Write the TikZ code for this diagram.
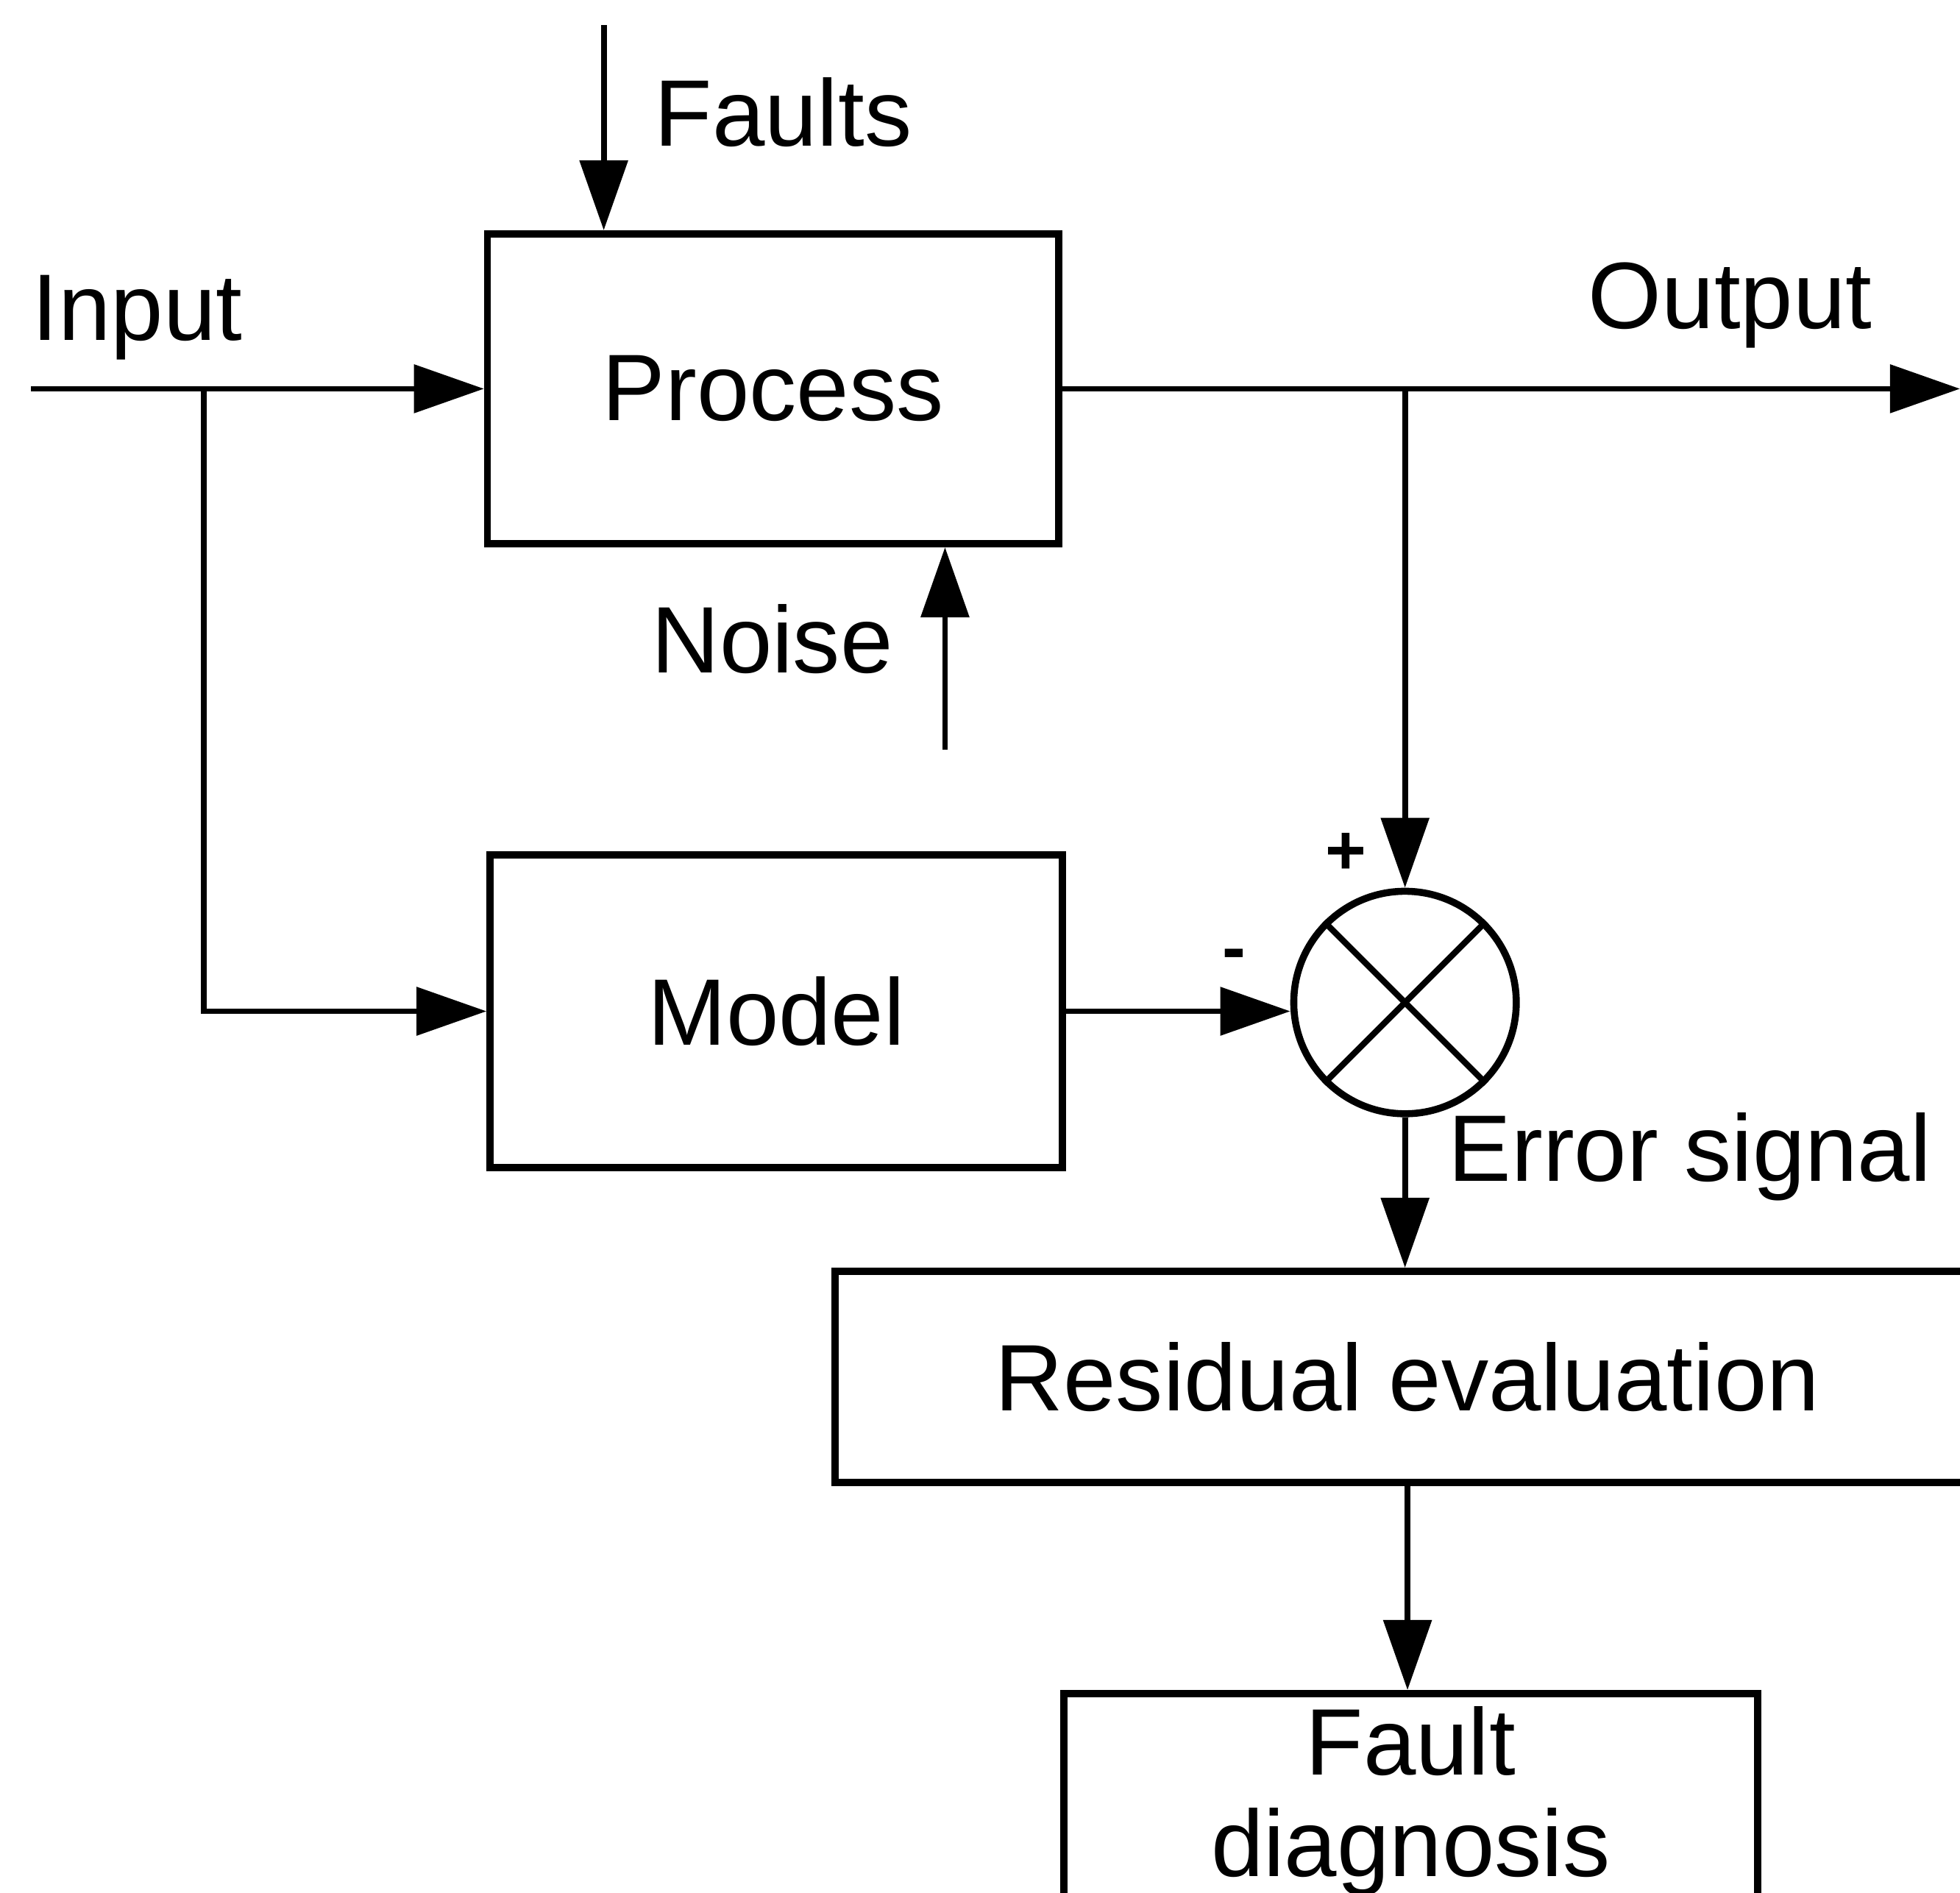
\documentclass[tikz,border=0pt]{standalone}
\usepackage{fontspec}
\setmainfont{Liberation Sans}
\usepackage{tikz}
\usetikzlibrary{calc, arrows.meta, positioning}

\tikzset{
    blocco/.style={draw, line width=1.6pt, inner sep=0pt, align=center,
        font=\fontsize{21.5}{23}\selectfont},
    freccia/.style={line width=1.3pt, -{Triangle[length=5.6mm,width=3.8mm]}},
    etich/.style={font=\fontsize{21.5}{23}\selectfont, inner sep=0pt},
    segno/.style={font=\fontsize{16}{18}\selectfont\bfseries, inner sep=0pt}
}

\begin{document}
\begin{tikzpicture}
    \path[use as bounding box, clip] (0,0) rectangle (15.68,-15.14);

    % blocchi
    \node[blocco, minimum width=4.57cm, minimum height=2.48cm] (proc) at (6.185,-3.11) {Process};
    \node[blocco, minimum width=4.58cm, minimum height=2.50cm] (model) at (6.21,-8.09) {Model};
    \node[blocco, minimum width=9.16cm, minimum height=1.69cm] (resid) at (11.26,-11.015) {Residual evaluation};
    \node[blocco, anchor=north, minimum width=5.55cm, inner sep=3pt] (diagn) at (11.285,-13.52) {Fault\\diagnosis};

    % nodo somma
    \node[draw, circle, line width=1.6pt, minimum size=1.78cm, inner sep=0pt] (somma) at (11.24,-8.02) {};
    \draw[line width=1.4pt] (somma.north west) -- (somma.south east);
    \draw[line width=1.4pt] (somma.north east) -- (somma.south west);

    % ingressi e uscita
    \coordinate (inp) at (0.25,-3.11);
    \coordinate (dirA) at (1.63,-3.11);
    \coordinate (guasti) at (4.83,-0.20);
    \coordinate (rumore) at (7.56,-6.00);
    \coordinate (usc) at (15.68,-3.11);
    \coordinate (dirB) at (somma.north |- proc.east);

    % frecce
    \draw[freccia] (inp) -- (proc.west);
    \draw[freccia] (dirA) |- (model.west);
    \draw[freccia] (guasti) -- (guasti |- proc.north);
    \draw[freccia] (rumore) -- (rumore |- proc.south);
    \draw[freccia] (proc.east) -- (usc);
    \draw[freccia] (dirB) -- (somma.north);
    \draw[freccia] (model.east) -- (model.east -| somma.west);
    \draw[freccia] (somma.south) -- (somma.south |- resid.north);
    \draw[freccia] (resid.south) -- (resid.south |- diagn.north);

    % etichette
    \node[etich, anchor=base west] (lfaults) at (5.23,-1.17) {Faults};
    \node[etich, anchor=base west] (linput) at (0.25,-2.72) {Input};
    \node[etich, anchor=base east] (lnoise) at (7.15,-5.38) {Noise};
    \node[etich, anchor=base west] (loutput) at (12.70,-2.63) {Output};
    \node[etich, anchor=base west] (lerrore) at (11.58,-9.45) {Error signal};
    \node[segno] (piu) at (10.77,-6.83) {+};
    \node[segno] (meno) at (9.87,-7.68) {-};
\end{tikzpicture}
\end{document}
